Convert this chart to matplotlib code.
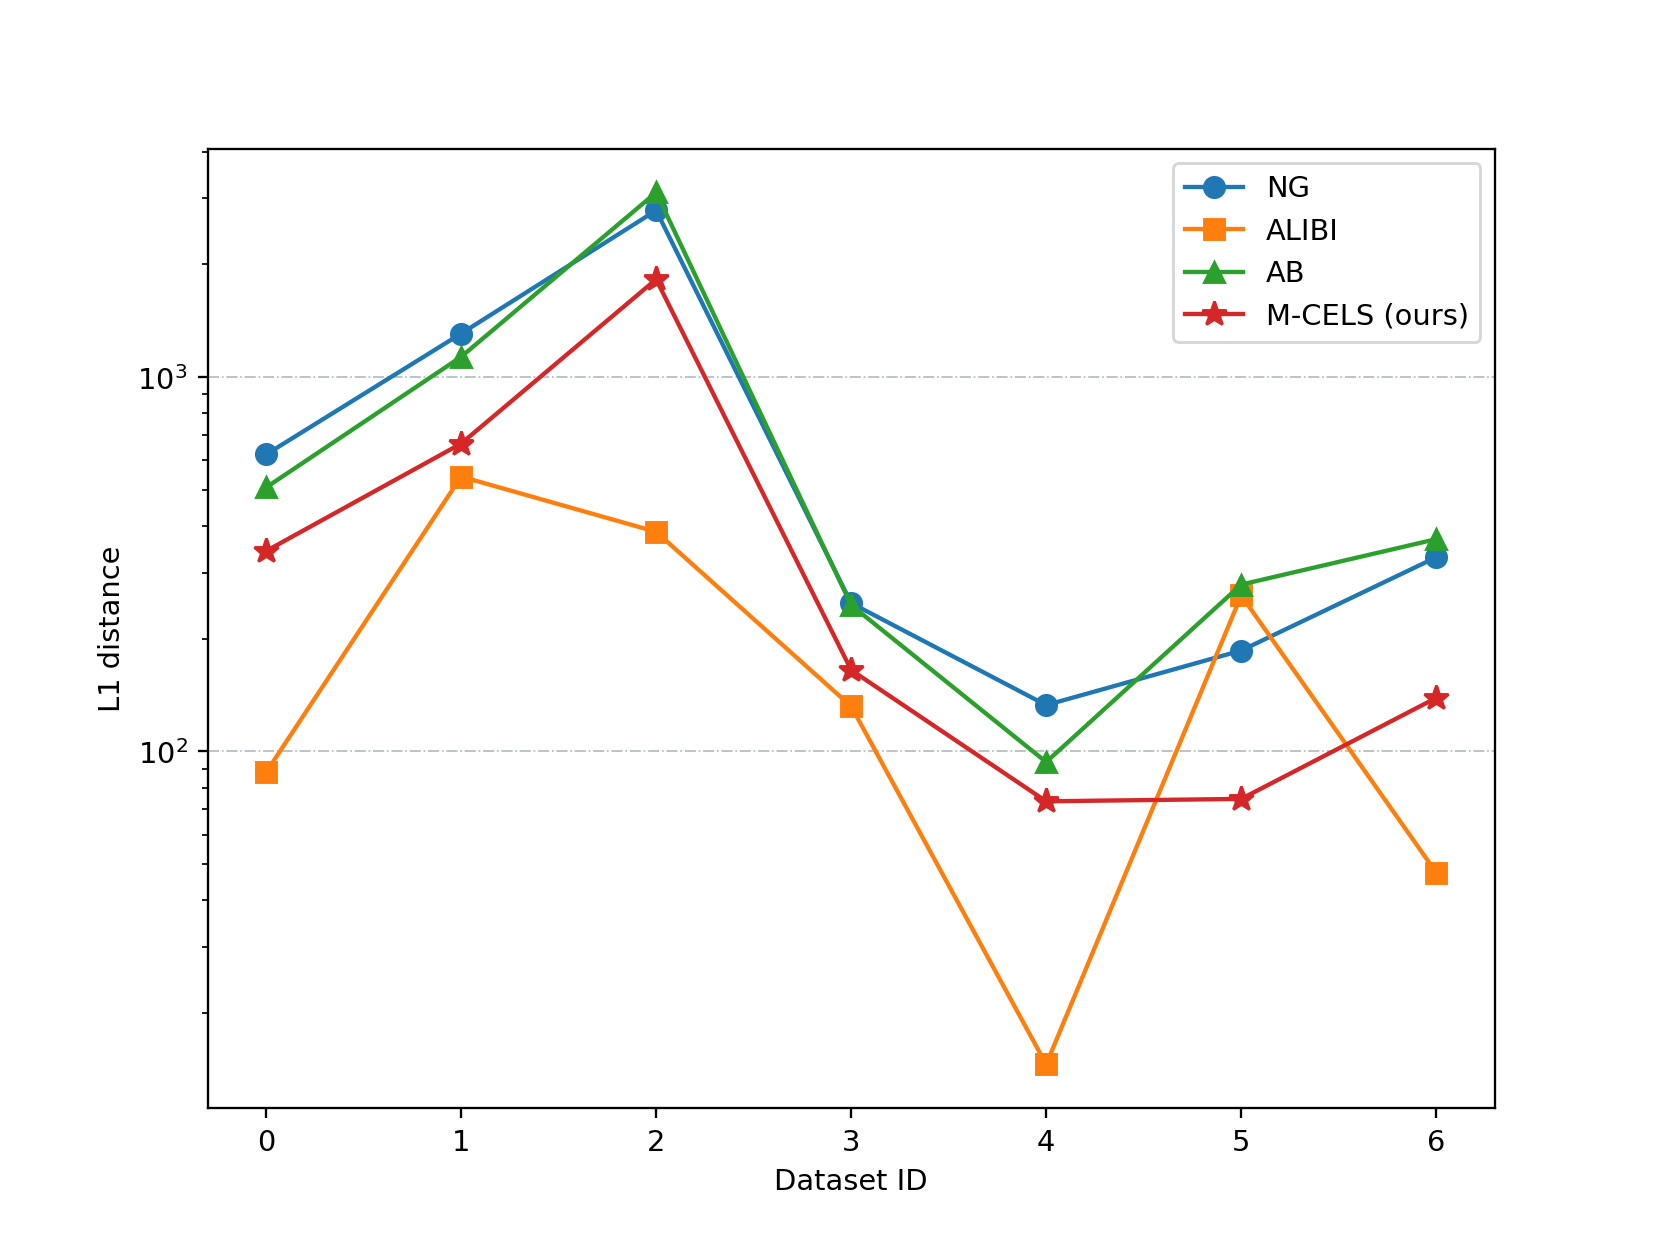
import numpy as np
import matplotlib.pyplot as plt

dataset_ids = [0, 1, 2, 3, 4, 5, 6]
ng = [621, 1306, 2785, 249, 133, 186, 330]
alibi = [88, 542, 386, 132, 14.6, 261, 47.5]
ab = [507, 1132, 3110, 246, 93.7, 279, 369]
mcels = [343, 664, 1823, 165, 73.6, 74.7, 139]

fig, ax = plt.subplots(figsize=(8, 6), dpi=207.6)
ax.plot(dataset_ids, ng, marker='o', markersize=7, label='NG')
ax.plot(dataset_ids, alibi, marker='s', markersize=7, label='ALIBI')
ax.plot(dataset_ids, ab, marker='^', markersize=7, label='AB')
ax.plot(dataset_ids, mcels, marker='*', markersize=9, label='M-CELS (ours)')
ax.set_yscale('log')
ax.grid(axis='y', which='major', linestyle='-.', linewidth=0.6, color='#b4bcc0')
ax.set_xlabel('Dataset ID')
ax.set_ylabel('L1 distance')
ax.legend(loc='upper right')
plt.savefig('out.png')
